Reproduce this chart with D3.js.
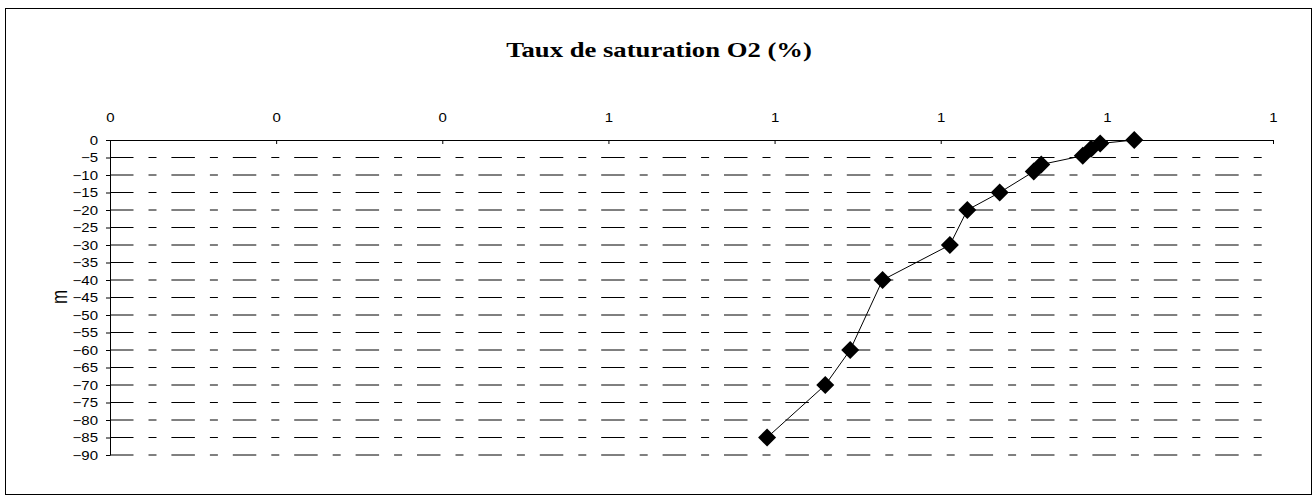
<!DOCTYPE html>
<html lang="fr">
<head>
    <meta charset="UTF-8">
    <title>Taux de saturation O2</title>
    <style>
        body { margin: 0; background: #fff; }
        text { font-family: "Liberation Sans", Arial, sans-serif; }
        .grid line { stroke: #000; stroke-width: 1px; stroke-dasharray: 23.5, 15, 8, 14.9; }
    </style>
</head>
<body>
    <div id="chart"></div>

    <script src="https://d3js.org/d3.v7.min.js"></script>
    <script>
        // values
        var depths = [0, -1, -2.5, -4.5, -7, -9, -15, -20, -30, -40, -60, -70, -85];
        var saturation = [1.233, 1.192, 1.181, 1.171, 1.121, 1.112, 1.071, 1.032, 1.011, 0.930, 0.891, 0.861, 0.791];
        var xTicks = [0, 0.2, 0.4, 0.6, 0.8, 1.0, 1.2, 1.4];
        var yTicks = d3.range(0, -95, -5);

        var width = 1314, height = 497;
        var stretch = 1.2; // the original text looks widened horizontally

        var svg = d3.select("#chart")
            .append("svg")
            .attr("width", width)
            .attr("height", height);

        // outer frame
        svg.append("rect")
            .attr("x", 5.5).attr("y", 8.5)
            .attr("width", 1306).attr("height", 486)
            .attr("fill", "none")
            .attr("stroke", "#000");

        svg.append("text")
            .attr("transform", "translate(659,57) scale(1.27,1)")
            .attr("text-anchor", "middle")
            .style("font-family", "'Liberation Serif', 'Times New Roman', serif")
            .style("font-weight", "bold")
            .style("font-size", "21px")
            .text("Taux de saturation O2 (%)");

        var x = d3.scaleLinear().domain([0, 1.4]).range([110, 1273]);
        var y = d3.scaleLinear().domain([-90, 0]).range([455, 140]);

        // dashed horizontal grid
        svg.append("g")
            .attr("class", "grid")
            .selectAll("line")
            .data(yTicks.filter(function (d) { return d !== 0; }))
            .enter()
            .append("line")
            .attr("x1", x(0)).attr("x2", x(1.4))
            .attr("y1", function (d) { return y(d); })
            .attr("y2", function (d) { return y(d); });

        // top axis
        var xAxis = svg.append("g")
            .attr("transform", "translate(0," + y(0) + ")")
            .call(d3.axisTop(x)
                .tickValues(xTicks)
                .tickSizeInner(-4)
                .tickSizeOuter(0)
                .tickPadding(18)
                .tickFormat(function (d) { return d.toFixed(0); }));

        // left axis
        var yAxis = svg.append("g")
            .attr("transform", "translate(" + x(0) + ",0)")
            .call(d3.axisLeft(y)
                .tickValues(yTicks)
                .tickSizeInner(4)
                .tickSizeOuter(0)
                .tickPadding(8)
                .tickFormat(d3.format("d")));

        [xAxis, yAxis].forEach(function (a) {
            a.select(".domain").attr("stroke", "#000");
            a.selectAll(".tick line").attr("stroke", "#000");
            a.selectAll("text")
                .attr("fill", "#000")
                .attr("transform", "scale(" + stretch + ",1)")
                .style("font-family", "'Liberation Sans', Arial, sans-serif")
                .style("font-size", "12.5px");
        });
        yAxis.selectAll("text").attr("x", -12 / stretch);

        svg.append("text")
            .attr("transform", "translate(67,297) scale(1.25,1) rotate(-90)")
            .attr("text-anchor", "middle")
            .style("font-size", "17px")
            .text("m");

        var pts = depths.map(function (d, i) { return { depth: d, value: saturation[i] }; });

        svg.append("path")
            .datum(pts)
            .attr("fill", "none")
            .attr("stroke", "#000")
            .attr("stroke-width", 1)
            .attr("d", d3.line()
                .x(function (d) { return x(d.value); })
                .y(function (d) { return y(d.depth); }));

        svg.append("g")
            .selectAll("path")
            .data(pts)
            .enter()
            .append("path")
            .attr("d", "M0,-9L9,0L0,9L-9,0Z")
            .attr("fill", "#000")
            .attr("transform", function (d) {
                return "translate(" + x(d.value) + "," + y(d.depth) + ")";
            });
    </script>
</body>
</html>
